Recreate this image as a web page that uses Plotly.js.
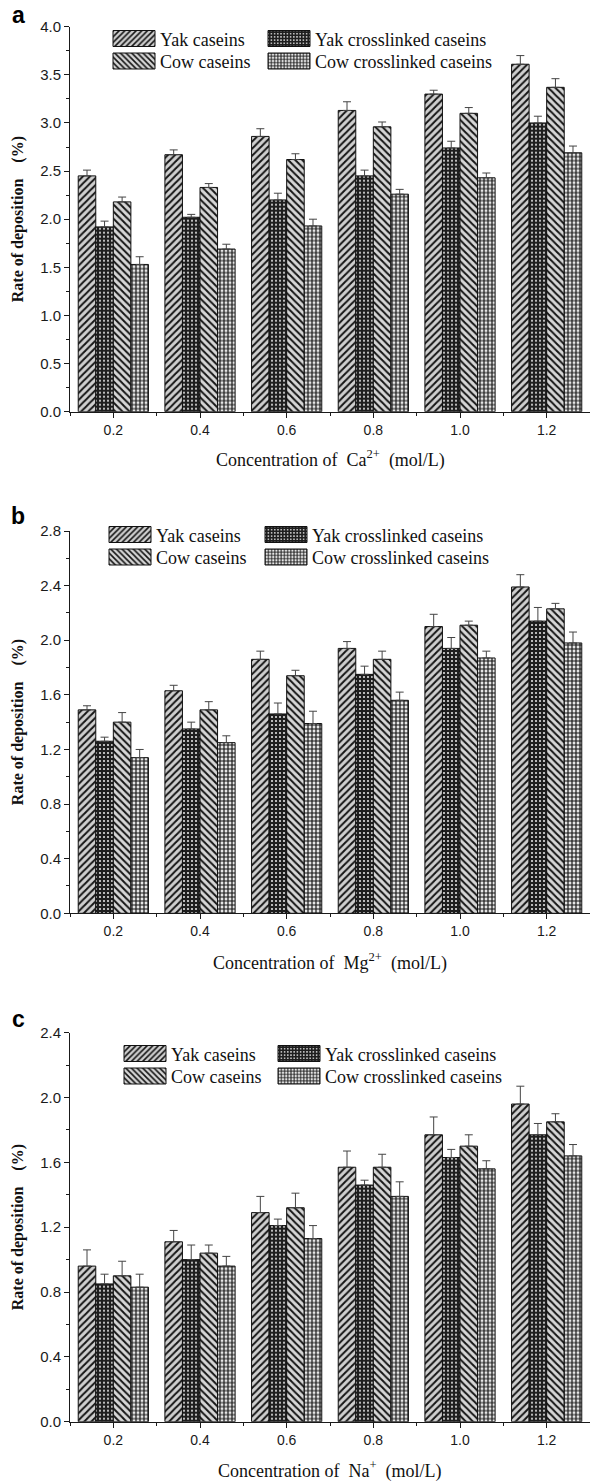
<!DOCTYPE html>
<html><head><meta charset="utf-8">
<script src="https://cdn.plot.ly/plotly-3.0.1.min.js"></script>
<style>html,body{margin:0;padding:0;background:#fff;} #chart{width:590px;height:1481px;}</style>
</head><body><div id="chart"></div><script>
// ---------- data ----------
const concentrations = [0.2, 0.4, 0.6, 0.8, 1.0, 1.2];
const seriesNames = ['Yak caseins', 'Yak crosslinked caseins', 'Cow caseins', 'Cow crosslinked caseins'];

// Panel a: Ca2+
const caYak      = [2.45, 2.67, 2.86, 3.13, 3.30, 3.61];
const caYakErr   = [0.06, 0.05, 0.08, 0.09, 0.04, 0.09];
const caYakX     = [1.92, 2.02, 2.20, 2.45, 2.74, 3.00];
const caYakXErr  = [0.06, 0.03, 0.07, 0.06, 0.07, 0.07];
const caCow      = [2.18, 2.33, 2.62, 2.96, 3.10, 3.37];
const caCowErr   = [0.05, 0.04, 0.06, 0.05, 0.06, 0.09];
const caCowX     = [1.53, 1.69, 1.93, 2.26, 2.43, 2.69];
const caCowXErr  = [0.08, 0.05, 0.07, 0.05, 0.05, 0.07];

// Panel b: Mg2+
const mgYak      = [1.49, 1.63, 1.86, 1.94, 2.10, 2.39];
const mgYakErr   = [0.03, 0.04, 0.06, 0.05, 0.09, 0.09];
const mgYakX     = [1.26, 1.35, 1.46, 1.75, 1.94, 2.14];
const mgYakXErr  = [0.03, 0.05, 0.08, 0.06, 0.08, 0.10];
const mgCow      = [1.40, 1.49, 1.74, 1.86, 2.11, 2.23];
const mgCowErr   = [0.07, 0.06, 0.04, 0.06, 0.03, 0.04];
const mgCowX     = [1.14, 1.25, 1.39, 1.56, 1.87, 1.98];
const mgCowXErr  = [0.06, 0.05, 0.09, 0.06, 0.05, 0.08];

// Panel c: Na+
const naYak      = [0.96, 1.11, 1.29, 1.57, 1.77, 1.96];
const naYakErr   = [0.10, 0.07, 0.10, 0.10, 0.11, 0.11];
const naYakX     = [0.85, 1.00, 1.21, 1.46, 1.63, 1.77];
const naYakXErr  = [0.06, 0.09, 0.04, 0.03, 0.05, 0.07];
const naCow      = [0.90, 1.04, 1.32, 1.57, 1.70, 1.85];
const naCowErr   = [0.09, 0.05, 0.09, 0.08, 0.07, 0.05];
const naCowX     = [0.83, 0.96, 1.13, 1.39, 1.56, 1.64];
const naCowXErr  = [0.08, 0.06, 0.08, 0.09, 0.05, 0.07];

const panelLetters = ['a', 'b', 'c'];
const ionLabels = ['Ca<sup>2+</sup>', 'Mg<sup>2+</sup>', 'Na<sup>+</sup>'];
const yTitle = 'Rate of deposition\u00a0\u00a0\u00a0\u00a0(%)';

// ---------- layout config ----------
const W = 590, H = 1481;
const py = p => 1 - p / H;
const px = p => p / W;
const SERIF = 'Liberation Serif, Times New Roman, serif';
const SANS = 'Liberation Sans, Arial, sans-serif';

const panels = [
  {values: [caYak, caYakX, caCow, caCowX], errs: [caYakErr, caYakXErr, caCowErr, caCowXErr],
   yMax: 4.0, dtick: 0.5, base: 411.7, top: 26.7, legRow: 38.5, legCols: [113, 268], titleY: 459, letterY: 15},
  {values: [mgYak, mgYakX, mgCow, mgCowX], errs: [mgYakErr, mgYakXErr, mgCowErr, mgCowXErr],
   yMax: 2.8, dtick: 0.4, base: 913.3, top: 531, legRow: 534.5, legCols: [109, 265], titleY: 962, letterY: 516},
  {values: [naYak, naYakX, naCow, naCowX], errs: [naYakErr, naYakXErr, naCowErr, naCowXErr],
   yMax: 2.4, dtick: 0.4, base: 1421.7, top: 1032.7, legRow: 1053.5, legCols: [124, 278], titleY: 1470, letterY: 1019}
];

const patterns = [
  {shape: '/',  bg: '#cfcfcf', fg: '#151515', size: 5, solidity: 0.4},
  {shape: '.',  bg: '#1e1e1e', fg: '#e0e0e0', size: 4, solidity: 0.22},
  {shape: '\\', bg: '#d6d6d6', fg: '#151515', size: 5, solidity: 0.4},
  {shape: '+',  bg: '#e6e6e6', fg: '#151515', size: 4, solidity: 0.5}
];

const LEG_FONT = 18;
const ROWGAP = 22.5;
const traces = [];
const layout = {
  width: W, height: H,
  margin: {l: 0, r: 0, t: 0, b: 0},
  paper_bgcolor: '#fff', plot_bgcolor: '#fff',
  barmode: 'group', bargap: 0.19, bargroupgap: 0,
  showlegend: true,
  annotations: []
};

panels.forEach((pn, i) => {
  const xa = i === 0 ? 'x' : 'x' + (i + 1);
  const ya = i === 0 ? 'y' : 'y' + (i + 1);
  const xKey = i === 0 ? 'xaxis' : 'xaxis' + (i + 1);
  const yKey = i === 0 ? 'yaxis' : 'yaxis' + (i + 1);
  pn.values.forEach((vals, s) => {
    const legNum = i * 2 + (s % 2) + 1;
    const legId = legNum === 1 ? 'legend' : 'legend' + legNum;
    const pt = patterns[s];
    traces.push({
      type: 'bar', x: concentrations, y: vals, name: seriesNames[s],
      xaxis: xa, yaxis: ya, legend: legId,
      marker: {color: pt.bg, line: {color: '#111', width: 1},
               pattern: {shape: pt.shape, fgcolor: pt.fg, bgcolor: pt.bg, size: pt.size, solidity: pt.solidity}},
      error_y: {type: 'data', symmetric: false, array: pn.errs[s], arrayminus: pn.errs[s].map(() => 0),
                color: '#444', thickness: 1, width: 4}
    });
  });
  layout[xKey] = {
    domain: [px(70), 1], anchor: ya, range: [0.1, 1.3],
    tickmode: 'linear', tick0: 0.2, dtick: 0.2, tickformat: '.1f',
    ticks: 'outside', ticklen: 5, tickwidth: 1, tickcolor: '#1a1a1a',
    minor: {tick0: 0.1, dtick: 0.2, ticks: 'outside', ticklen: 3, tickwidth: 1, tickcolor: '#1a1a1a'},
    showline: true, linecolor: '#1a1a1a', linewidth: 1, showgrid: false, zeroline: false,
    tickfont: {family: SANS, size: 14, color: '#1a1a1a'}, fixedrange: true
  };
  layout[yKey] = {
    domain: [py(pn.base), py(pn.top)], anchor: xa, range: [0, pn.yMax],
    tickmode: 'linear', tick0: 0, dtick: pn.dtick, tickformat: '.1f',
    ticks: 'outside', ticklen: 5, tickwidth: 1, tickcolor: '#1a1a1a',
    minor: {dtick: pn.dtick / 2, ticks: 'outside', ticklen: 3, tickwidth: 1, tickcolor: '#1a1a1a'},
    showline: true, linecolor: '#1a1a1a', linewidth: 1, showgrid: false, zeroline: false,
    tickfont: {family: SANS, size: 15, color: '#1a1a1a'}, fixedrange: true
  };
  pn.legCols.forEach((lx, c) => {
    const legNum = i * 2 + c + 1;
    const legId = legNum === 1 ? 'legend' : 'legend' + legNum;
    layout[legId] = {
      x: px(lx - 9), xanchor: 'left', y: py(pn.legRow - (5 + (LEG_FONT * 1.3 + 3) / 2)), yanchor: 'top',
      bgcolor: 'rgba(0,0,0,0)', borderwidth: 0, itemwidth: 46, traceorder: 'normal', tracegroupgap: 0,
      font: {family: SERIF, size: LEG_FONT, color: '#111'}
    };
  });
  layout.annotations.push({
    xref: 'paper', yref: 'paper', x: px(330), y: py(pn.titleY), xanchor: 'center', yanchor: 'middle',
    text: 'Concentration of\u00a0 ' + ionLabels[i] + '\u00a0 (mol/L)', showarrow: false,
    font: {family: SERIF, size: 18, color: '#111'}
  });
  layout.annotations.push({
    xref: 'paper', yref: 'paper', x: px(18), y: py((pn.base + pn.top) / 2), xanchor: 'center', yanchor: 'middle',
    text: '<b>' + yTitle + '</b>', textangle: -90, showarrow: false,
    font: {family: SERIF, size: 16, color: '#111'}
  });
  layout.annotations.push({
    xref: 'paper', yref: 'paper', x: px(18), y: py(pn.letterY), xanchor: 'center', yanchor: 'middle',
    text: '<b>' + panelLetters[i] + '</b>', showarrow: false,
    font: {family: SANS, size: 23, color: '#000'}
  });
});

Plotly.newPlot('chart', traces, layout, {staticPlot: true, displayModeBar: false}).then(gd => {
  const groups = new Map();
  gd.querySelectorAll('g.traces').forEach(it => {
    const p = it.parentNode;
    if (!groups.has(p)) groups.set(p, []);
    groups.get(p).push(it);
  });
  groups.forEach(items => {
    let y0 = null;
    items.forEach((it, k) => {
      const m = /translate\(\s*([-\d.e]+)[ ,]+([-\d.e]+)\s*\)/.exec(it.getAttribute('transform') || '');
      if (m) {
        const x = +m[1], y = +m[2];
        if (y0 === null) y0 = y;
        it.setAttribute('transform', 'translate(' + x + ',' + (y0 + k * ROWGAP) + ')');
      }
      const txt = it.querySelector('text.legendtext');
      const tx = txt ? parseFloat(txt.getAttribute('x')) : 56;
      it.querySelectorAll('g.legendpoints path').forEach(p => {
        p.setAttribute('d', 'M21,8H-21V-8H21Z');
        p.setAttribute('transform', 'translate(' + (tx - 5 - 21) + ',0)');
      });
    });
  });
});
</script></body></html>
